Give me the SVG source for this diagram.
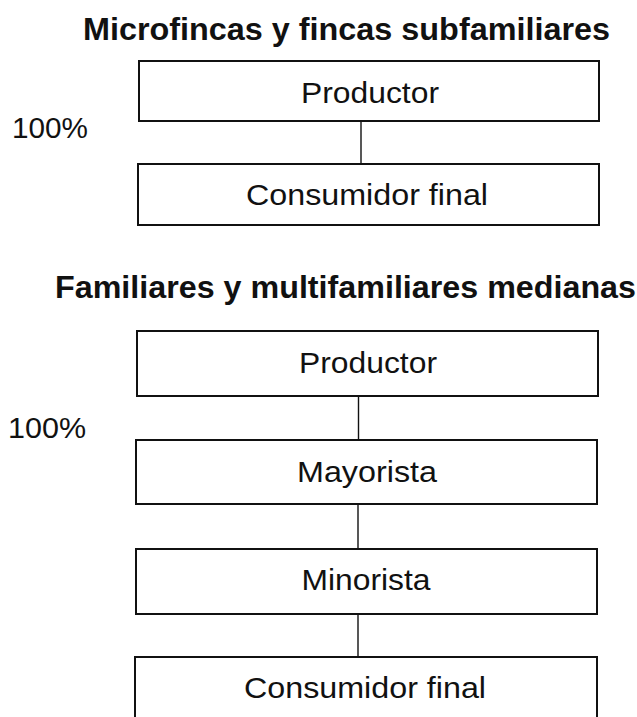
<svg xmlns="http://www.w3.org/2000/svg" width="637" height="717" viewBox="0 0 637 717">
<style>
.box{fill:#fff;stroke:#111;stroke-width:2}
.con{stroke:#111;stroke-width:1.4;fill:none}
.t{font-family:"Liberation Sans",Arial,sans-serif;font-size:30px;fill:#111;text-anchor:middle}
.h{font-family:"Liberation Sans",Arial,sans-serif;font-size:32px;font-weight:bold;fill:#111}
.p{font-family:"Liberation Sans",Arial,sans-serif;font-size:29px;fill:#111}
</style>
<rect width="637" height="717" fill="#fff"/>
<text class="h" x="83" y="40" textLength="527" lengthAdjust="spacingAndGlyphs">Microfincas y fincas subfamiliares</text>
<text class="p" x="12" y="138" textLength="76" lengthAdjust="spacingAndGlyphs">100%</text>
<text class="h" x="55" y="298" textLength="581" lengthAdjust="spacingAndGlyphs">Familiares y multifamiliares medianas</text>
<text class="p" x="8" y="438" textLength="78" lengthAdjust="spacingAndGlyphs">100%</text>
<g id="connectors">
<line class="con" x1="361" y1="121" x2="361" y2="164"/>
<line class="con" x1="358.5" y1="396" x2="358.5" y2="440"/>
<line class="con" x1="358" y1="504" x2="358" y2="549"/>
<line class="con" x1="358" y1="614" x2="358" y2="657"/>
</g>
<g id="n1">
<rect class="box" x="139" y="61" width="460" height="60"/>
<text class="t" x="370" y="103" textLength="138" lengthAdjust="spacingAndGlyphs">Productor</text>
</g>
<g id="n2">
<rect class="box" x="138" y="164" width="461" height="61"/>
<text class="t" x="367" y="205" textLength="242" lengthAdjust="spacingAndGlyphs">Consumidor final</text>
</g>
<g id="n3">
<rect class="box" x="137" y="331" width="461" height="65"/>
<text class="t" x="368" y="373" textLength="138" lengthAdjust="spacingAndGlyphs">Productor</text>
</g>
<g id="n4">
<rect class="box" x="136" y="440" width="461" height="64"/>
<text class="t" x="367" y="482" textLength="140" lengthAdjust="spacingAndGlyphs">Mayorista</text>
</g>
<g id="n5">
<rect class="box" x="136" y="549" width="461" height="65"/>
<text class="t" x="366" y="590" textLength="129" lengthAdjust="spacingAndGlyphs">Minorista</text>
</g>
<g id="n6">
<rect class="box" x="135" y="657" width="462" height="75"/>
<text class="t" x="365" y="698" textLength="242" lengthAdjust="spacingAndGlyphs">Consumidor final</text>
</g>
</svg>
